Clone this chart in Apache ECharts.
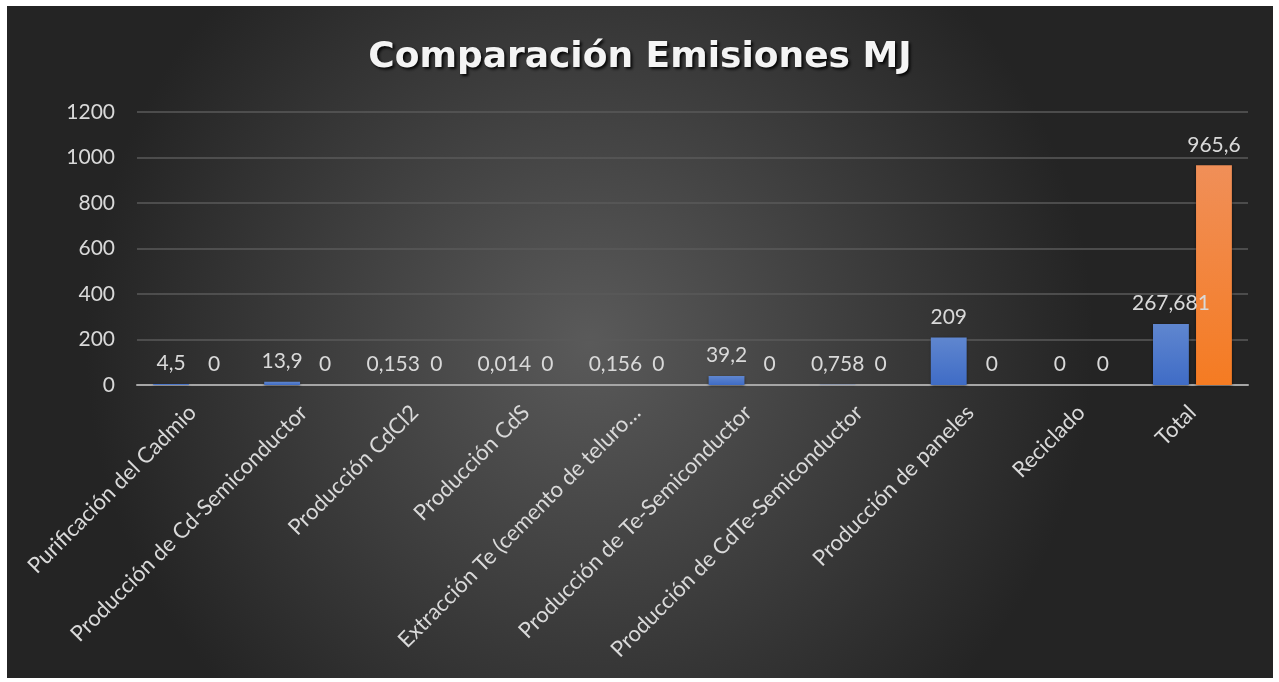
<!DOCTYPE html>
<html>
<head>
<meta charset="utf-8">
<script src="https://cdn.jsdelivr.net/npm/echarts@6/dist/echarts.min.js"></script>
<style>
html,body{margin:0;padding:0;background:#fff;width:1279px;height:682px;overflow:hidden;}
#chart{position:absolute;left:7px;top:6px;width:1266px;height:672px;}
</style>
</head>
<body>
<div id="chart"></div>
<script>
const categories = [
  "Purificación del Cadmio",
  "Producción de Cd-Semiconductor",
  "Producción CdCl2",
  "Producción CdS",
  "Extracción Te (cemento de teluro…",
  "Producción de Te-Semiconductor",
  "Producción de CdTe-Semiconductor",
  "Producción de paneles",
  "Reciclado",
  "Total"
];
const seriesA = [4.5, 13.9, 0.153, 0.014, 0.156, 39.2, 0.758, 209, 0, 267.681];
const seriesB = [0, 0, 0, 0, 0, 0, 0, 0, 0, 965.6];
const yTicks = {min: 0, max: 1200, interval: 200};

const chart = echarts.init(document.getElementById('chart'), null, {renderer: 'canvas'});
const FONT = 'Lato, "Open Sans", sans-serif';
const labelFmt = p => String(p.value).replace('.', ',');
const mkLabel = () => ({
  show: true, position: 'top', distance: 10,
  color: '#d9d9d9', fontSize: 21, fontFamily: FONT,
  formatter: labelFmt
});
chart.setOption({
  backgroundColor: {
    type: 'radial', x: 0.46, y: 0.5, r: 0.75,
    colorStops: [
      {offset: 0, color: '#5a5a5a'},
      {offset: 1, color: '#242424'}
    ]
  },
  animation: false,
  title: {
    text: 'Comparación Emisiones MJ',
    left: 'center', top: 29,
    textStyle: {
      color: '#f4f4f4', fontSize: 36, fontWeight: 'bold',
      fontFamily: '"DejaVu Sans", sans-serif',
      textShadowColor: 'rgba(0,0,0,0.9)', textShadowBlur: 3,
      textShadowOffsetX: 2, textShadowOffsetY: 2
    }
  },
  grid: {left: 130, right: 25, top: 106, bottom: 293, containLabel: false},
  xAxis: {
    type: 'category', data: categories,
    axisLine: {lineStyle: {color: '#a6a6a6', width: 2}},
    axisTick: {show: false},
    axisLabel: {
      rotate: 45, interval: 0, color: '#d9d9d9', fontSize: 22,
      fontFamily: FONT, margin: 24
    }
  },
  yAxis: {
    type: 'value', min: yTicks.min, max: yTicks.max, interval: yTicks.interval,
    axisLine: {show: false}, axisTick: {show: false},
    axisLabel: {color: '#d9d9d9', fontSize: 21, fontFamily: FONT, margin: 22,
      formatter: v => String(v)},
    splitLine: {lineStyle: {color: '#5a5a5a', width: 1.5}}
  },
  series: [
    {
      type: 'bar', data: seriesA, barGap: '20%', barCategoryGap: '29%',
      itemStyle: {
        color: {type: 'linear', x: 0, y: 0, x2: 0, y2: 1,
          colorStops: [{offset: 0, color: '#5f86cf'}, {offset: 1, color: '#3f6cc6'}]},
        shadowColor: 'rgba(0,0,0,0.5)', shadowBlur: 3, shadowOffsetY: 1
      },
      label: mkLabel()
    },
    {
      type: 'bar', data: seriesB,
      itemStyle: {
        color: {type: 'linear', x: 0, y: 0, x2: 0, y2: 1,
          colorStops: [{offset: 0, color: '#f08f58'}, {offset: 1, color: '#f57b22'}]},
        shadowColor: 'rgba(0,0,0,0.5)', shadowBlur: 3, shadowOffsetY: 1
      },
      label: mkLabel()
    }
  ]
});
</script>
</body>
</html>
